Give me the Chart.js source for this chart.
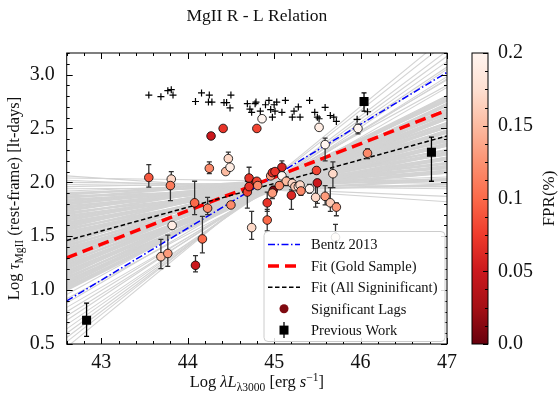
<!DOCTYPE html>
<html>
<head>
<meta charset="utf-8">
<script src="https://cdn.jsdelivr.net/npm/chart.js@4.4.0/dist/chart.umd.min.js"></script>
<style>
  html, body { margin: 0; padding: 0; background: #fff; }
</style>
</head>
<body>
<canvas id="rlChart" width="560" height="397"></canvas>
<script>
// x range of the fit lines (left / right edge of the plot)
const fitX = [42.6, 47];
const bentzY = [0.90, 3.02];
const goldY = [1.30, 2.67];
const allSigY = [1.46, 2.43];

// bootstrap fit lines: value at the left edge and at the right edge
const grayLeft = [0.47, 0.52, 0.56, 0.60, 0.64, 0.68, 0.72, 0.76, 0.80, 0.84, 0.88, 0.92, 0.96,
  1.000, 1.015, 1.030, 1.045, 1.060, 1.075, 1.090, 1.105, 1.120, 1.135, 1.150, 1.165, 1.180, 1.195,
  1.210, 1.225, 1.240, 1.255, 1.270, 1.285, 1.300, 1.315, 1.330, 1.345, 1.360, 1.375, 1.390, 1.405,
  1.420, 1.435, 1.450, 1.465, 1.480, 1.495, 1.510, 1.525, 1.540, 1.555, 1.570, 1.585, 1.600, 1.615,
  1.630, 1.645, 1.660, 1.675, 1.690, 1.705, 1.720, 1.735, 1.750, 1.765, 1.780, 1.795, 1.810, 1.825,
  1.840, 1.855, 1.870, 1.885, 1.900, 1.92, 1.94, 1.96, 1.98, 2.00, 2.02, 2.04, 2.06];
const grayRight = [3.36, 3.30, 3.22, 3.17, 3.12, 3.05, 3.07, 2.98, 2.96, 2.88, 2.95, 2.80, 2.90,
  2.78, 2.80, 2.72, 2.80, 2.71, 2.73, 2.65, 2.76, 2.61, 2.76, 2.65, 2.68, 2.59, 2.67,
  2.59, 2.61, 2.52, 2.64, 2.48, 2.63, 2.53, 2.55, 2.47, 2.55, 2.46, 2.48, 2.40, 2.51,
  2.36, 2.51, 2.40, 2.43, 2.34, 2.42, 2.34, 2.36, 2.27, 2.39, 2.23, 2.38, 2.28, 2.30,
  2.22, 2.30, 2.21, 2.23, 2.15, 2.26, 2.11, 2.26, 2.15, 2.18, 2.09, 2.17, 2.09, 2.11,
  2.02, 2.14, 1.98, 2.13, 2.03, 2.05, 1.96, 2.03, 1.94, 1.96, 1.87, 1.99, 1.82];

// lags without significance (plus markers)
const plusX = [43.55, 43.69, 43.77, 43.81, 43.83, 44.09, 44.16, 44.25, 44.24, 44.28, 44.42, 44.45, 44.49, 44.50,
  44.69, 44.72, 44.74, 44.78, 44.79, 44.84, 44.90, 44.94, 44.96, 44.98, 45.00, 45.01, 45.03, 45.09, 45.13,
  45.21, 45.23, 45.28, 45.30, 45.41, 45.47, 45.50, 45.52, 45.59, 45.65, 45.69, 45.72, 45.96, 46.08];
const plusY = [2.81, 2.795, 2.85, 2.86, 2.81, 2.75, 2.83, 2.81, 2.745, 2.745, 2.74, 2.74, 2.69, 2.81,
  2.73, 2.68, 2.65, 2.73, 2.745, 2.66, 2.72, 2.76, 2.675, 2.605, 2.72, 2.66, 2.745, 2.65, 2.76,
  2.605, 2.66, 2.70, 2.605, 2.76, 2.65, 2.605, 2.59, 2.695, 2.62, 2.605, 2.565, 2.585, 2.655];

// significant lags
const lagX = [43.55, 43.81, 43.80, 44.25, 44.27, 44.41, 44.80, 44.86, 44.47, 44.44, 44.49, 44.71, 44.79, 44.69,
  45.52, 45.97, 45.59, 46.08, 45.09, 45.49, 45.68, 45.50, 45.41, 44.08, 44.23, 44.50, 43.82, 43.69, 43.77,
  44.17, 44.09, 44.74, 44.92, 44.92, 44.99, 44.96, 44.98, 45.01, 45.09, 45.14, 45.06, 44.98, 45.21, 45.24,
  45.28, 45.30, 45.31, 45.20, 45.48, 45.59, 45.65, 45.72, 45.71, 44.80, 44.81, 44.71];
const lagY = [2.045, 2.03, 1.97, 2.13, 2.43, 2.50, 2.50, 2.59, 2.22, 2.10, 2.14, 2.04, 2.00, 1.91,
  2.51, 2.50, 2.35, 2.27, 2.14, 2.11, 2.08, 1.995, 1.94, 1.81, 1.76, 1.79, 1.60, 1.31, 1.34,
  1.475, 1.23, 1.58, 1.81, 1.65, 1.925, 2.06, 2.09, 2.10, 2.06, 2.01, 1.97, 1.90, 1.99, 1.96,
  1.96, 1.975, 1.92, 1.88, 1.86, 1.87, 1.81, 1.77, 1.49, 2.01, 1.97, 1.96];
const lagFpr = [0.09, 0.17, 0.11, 0.12, 0.05, 0.07, 0.08, 0.20, 0.17, 0.15, 0.19, 0.07, 0.08, 0.08,
  0.19, 0.20, 0.20, 0.12, 0.06, 0.08, 0.17, 0.05, 0.20, 0.10, 0.12, 0.12, 0.19, 0.15, 0.13,
  0.10, 0.05, 0.17, 0.07, 0.10, 0.01, 0.13, 0.07, 0.07, 0.20, 0.15, 0.12, 0.13, 0.17, 0.16,
  0.18, 0.17, 0.12, 0.06, 0.17, 0.13, 0.16, 0.13, 0.19, 0.08, 0.12, 0.07];
const lagErrLo = [0.09, 0.03, 0.14, 0.05, 0, 0, 0, 0, 0.03, 0, 0, 0.05, 0.03, 0.15,
  0, 0.05, 0.15, 0.05, 0.04, 0.03, 0.13, 0.19, 0.04, 0.11, 0.06, 0, 0, 0.11, 0.12,
  0.13, 0.06, 0.11, 0.08, 0.10, 0.04, 0, 0, 0, 0, 0.04, 0, 0.05, 0, 0,
  0, 0, 0.04, 0.13, 0.09, 0.08, 0.08, 0.08, 0, 0, 0, 0];
const lagErrHi = [0.12, 0.07, 0.05, 0.06, 0, 0, 0, 0, 0.06, 0, 0, 0.10, 0.03, 0.10,
  0, 0.04, 0.06, 0.04, 0.06, 0.03, 0.11, 0.03, 0.04, 0.20, 0.10, 0, 0, 0.16, 0.17,
  0.21, 0.09, 0.15, 0.10, 0.10, 0.04, 0, 0, 0, 0, 0.04, 0, 0.05, 0, 0,
  0, 0, 0.04, 0.05, 0.12, 0.10, 0.14, 0.04, 0.12, 0, 0, 0];

// previous work
const prevX = [42.83, 46.04, 46.82];
const prevY = [0.72, 2.75, 2.28];
const prevErrLo = [0.15, 0.09, 0.27];
const prevErrHi = [0.16, 0.08, 0.14];

const legendLabels = ['Bentz 2013', 'Fit (Gold Sample)', 'Fit (All Signinificant)', 'Significant Lags', 'Previous Work'];
const fprTicks = [0, 0.05, 0.1, 0.15, 0.2];

const serif = '"Liberation Serif", "Times New Roman", serif';
const ink = '#111111';

// matplotlib "Reds", reversed so FPR 0 is dark
const redsStops = ['#67000d', '#a50f15', '#cb181d', '#ef3b2c', '#fb6a4a', '#fc9272', '#fcbba1', '#fee0d2', '#fff5f0'];

function hexToRgb(h) {
    return [parseInt(h.slice(1, 3), 16), parseInt(h.slice(3, 5), 16), parseInt(h.slice(5, 7), 16)];
}

function fprColor(f) {
    const t = Math.min(1, Math.max(0, f / 0.2)) * 8;
    const i = Math.min(7, Math.floor(t));
    const u = t - i;
    const a = hexToRgb(redsStops[i]), b = hexToRgb(redsStops[i + 1]);
    const c = a.map((v, k) => Math.round(v + (b[k] - v) * u));
    return `rgb(${c[0]},${c[1]},${c[2]})`;
}

// draw a line of text made of pieces: '' plain, 'i' italic, 'sub', 'sup'
function drawRich(ctx, parts, cx, cy, size, rot) {
    const fontFor = st => {
        const s = (st === 'sub' || st === 'sup') ? size * 0.7 : size;
        return `${st === 'i' ? 'italic ' : ''}${s}px ${serif}`;
    };
    let total = 0;
    const widths = parts.map(([t, st]) => {
        ctx.font = fontFor(st);
        const w = ctx.measureText(t).width;
        total += w;
        return w;
    });
    ctx.save();
    ctx.translate(cx, cy);
    ctx.rotate(rot);
    ctx.fillStyle = ink;
    ctx.textBaseline = 'alphabetic';
    ctx.textAlign = 'left';
    let x = -total / 2;
    parts.forEach(([t, st], i) => {
        ctx.font = fontFor(st);
        let dy = size * 0.33;
        if (st === 'sub') dy += size * 0.22;
        if (st === 'sup') dy -= size * 0.42;
        ctx.fillText(t, x, dy);
        x += widths[i];
    });
    ctx.restore();
}

const errorBars = {
    id: 'errorBars',
    beforeDatasetDraw(chart, args) {
        const ds = chart.data.datasets[args.index];
        if (!ds.errLo) return;
        const { ctx, chartArea } = chart;
        const xs = chart.scales.x, ys = chart.scales.y;
        ctx.save();
        ctx.beginPath();
        ctx.rect(chartArea.left, chartArea.top, chartArea.right - chartArea.left, chartArea.bottom - chartArea.top);
        ctx.clip();
        ctx.strokeStyle = ds.errColor;
        ctx.lineWidth = 1.3;
        ds.data.forEach((p, i) => {
            const lo = ds.errLo[i], hi = ds.errHi[i];
            if (!lo && !hi) return;
            const px = xs.getPixelForValue(p.x);
            const y1 = ys.getPixelForValue(p.y - lo);
            const y2 = ys.getPixelForValue(p.y + hi);
            ctx.beginPath();
            ctx.moveTo(px, y1); ctx.lineTo(px, y2);
            ctx.moveTo(px - 2.5, y1); ctx.lineTo(px + 2.5, y1);
            ctx.moveTo(px - 2.5, y2); ctx.lineTo(px + 2.5, y2);
            ctx.stroke();
        });
        ctx.restore();
    }
};

const decorations = {
    id: 'decorations',
    afterDatasetsDraw(chart) {
        const { ctx, chartArea: a } = chart;
        const xs = chart.scales.x, ys = chart.scales.y, cb = chart.scales.cb;
        ctx.save();
        ctx.strokeStyle = '#000';
        ctx.lineWidth = 1;
        ctx.strokeRect(a.left, a.top, a.right - a.left, a.bottom - a.top);

        // inward ticks on all four sides
        ctx.beginPath();
        for (let v = 42.6; v <= 47.001; v += 0.2) {
            const px = Math.round(xs.getPixelForValue(v)) + 0.5;
            const major = Math.abs(v - Math.round(v)) < 0.01;
            const len = major ? 6 : 3;
            ctx.moveTo(px, a.bottom); ctx.lineTo(px, a.bottom - len);
            ctx.moveTo(px, a.top); ctx.lineTo(px, a.top + len);
        }
        for (let v = 0.5; v <= 3.2001; v += 0.1) {
            const py = Math.round(ys.getPixelForValue(v)) + 0.5;
            const major = Math.abs(v * 2 - Math.round(v * 2)) < 0.01;
            const len = major ? 6 : 3;
            ctx.moveTo(a.left, py); ctx.lineTo(a.left + len, py);
            ctx.moveTo(a.right, py); ctx.lineTo(a.right - len, py);
        }
        ctx.stroke();

        // colour bar
        const bx = a.right + 25, bw = 16;
        const g = ctx.createLinearGradient(0, cb.getPixelForValue(0), 0, cb.getPixelForValue(0.2));
        redsStops.forEach((c, i) => g.addColorStop(i / 8, c));
        ctx.fillStyle = g;
        ctx.fillRect(bx, a.top, bw, a.bottom - a.top);
        ctx.strokeRect(bx, a.top, bw, a.bottom - a.top);
        ctx.beginPath();
        for (let k = 0; k <= 16; k++) {
            const py = Math.round(cb.getPixelForValue(k * 0.0125)) + 0.5;
            const len = k % 4 === 0 ? 5 : 3;
            ctx.moveTo(bx + bw, py); ctx.lineTo(bx + bw - len, py);
        }
        ctx.stroke();
        ctx.restore();
    },
    afterDraw(chart) {
        const { ctx, chartArea: a } = chart;
        const midX = (a.left + a.right) / 2, midY = (a.top + a.bottom) / 2;

        // title and axis titles
        ctx.save();
        ctx.fillStyle = ink;
        ctx.font = `17.5px ${serif}`;
        ctx.textAlign = 'center';
        ctx.textBaseline = 'middle';
        ctx.fillText('MgII R - L Relation', midX, 16);
        ctx.restore();
        drawRich(ctx, [['Log ', ''], ['τ', 'i'], ['MgII', 'sub'], [' (rest-frame) [lt-days]', '']], 14, midY, 16.5, -Math.PI / 2);
        drawRich(ctx, [['Log ', ''], ['λL', 'i'], ['λ3000', 'sub'], [' [erg ', ''], ['s', 'i'], ['−1', 'sup'], [']', '']], midX, 382, 16.5, 0);
        drawRich(ctx, [['FPR(%)', '']], 548, midY, 17, -Math.PI / 2);

        // legend box in the lower right corner
        const w = 181, h = 110;
        const x0 = a.right - w - 2, y0 = a.bottom - h - 2.5;
        ctx.save();
        ctx.beginPath();
        ctx.roundRect(x0, y0, w, h, 4);
        ctx.fillStyle = 'rgba(255,255,255,0.85)';
        ctx.fill();
        ctx.strokeStyle = '#cccccc';
        ctx.lineWidth = 1;
        ctx.stroke();

        const hx0 = x0 + 4, hx1 = x0 + 36, hc = (hx0 + hx1) / 2;
        const rowY = i => y0 + 13 + i * 21.4;
        const lines = [
            { color: '#0000ff', width: 1.5, dash: [7, 2.5, 1.5, 2.5] },
            { color: '#ff0000', width: 3.5, dash: [11, 6] },
            { color: '#000000', width: 1.5, dash: [4.5, 2.5] }
        ];
        lines.forEach((s, i) => {
            ctx.beginPath();
            ctx.setLineDash(s.dash);
            ctx.strokeStyle = s.color;
            ctx.lineWidth = s.width;
            ctx.moveTo(hx0, rowY(i)); ctx.lineTo(hx1, rowY(i));
            ctx.stroke();
        });
        ctx.setLineDash([]);
        ctx.beginPath();
        ctx.arc(hc, rowY(3), 4.5, 0, Math.PI * 2);
        ctx.fillStyle = '#7f0a10';
        ctx.fill();
        ctx.beginPath();
        ctx.strokeStyle = '#000';
        ctx.lineWidth = 1.3;
        ctx.moveTo(hc, rowY(4) - 8); ctx.lineTo(hc, rowY(4) + 8);
        ctx.stroke();
        ctx.fillStyle = '#000';
        ctx.fillRect(hc - 4.5, rowY(4) - 4.5, 9, 9);

        ctx.fillStyle = ink;
        ctx.font = `14.5px ${serif}`;
        ctx.textAlign = 'left';
        ctx.textBaseline = 'middle';
        legendLabels.forEach((t, i) => ctx.fillText(t, x0 + 47, rowY(i) + 1));
        ctx.restore();
    }
};

// dense middle of the band drawn a little wider so it reads as a solid fill
const grayDatasets = grayLeft.map((l, i) => ({
    type: 'line',
    data: [{ x: fitX[0], y: l }, { x: fitX[1], y: grayRight[i] }],
    borderColor: '#d3d3d3',
    borderWidth: (l >= 0.99 && l <= 1.91) ? 2.2 : 1.1,
    pointRadius: 0,
    order: 20
}));

const fitLine = (ys, color, width, dash, order) => ({
    type: 'line',
    data: fitX.map((x, i) => ({ x, y: ys[i] })),
    borderColor: color,
    borderWidth: width,
    borderDash: dash,
    pointRadius: 0,
    order
});

const tickFont = { family: serif, size: 20, lineHeight: 1 };

new Chart(document.getElementById('rlChart'), {
    type: 'scatter',
    data: {
        datasets: [
            {
                data: plusX.map((x, i) => ({ x, y: plusY[i] })),
                pointStyle: 'cross',
                pointRadius: 3.5,
                borderColor: '#000',
                borderWidth: 1.2,
                order: 0
            },
            {
                data: lagX.map((x, i) => ({ x, y: lagY[i] })),
                backgroundColor: lagFpr.map(fprColor),
                borderColor: '#000',
                borderWidth: 0.8,
                pointRadius: 4.3,
                errLo: lagErrLo,
                errHi: lagErrHi,
                errColor: '#333333',
                order: 1
            },
            {
                data: prevX.map((x, i) => ({ x, y: prevY[i] })),
                pointStyle: 'rect',
                backgroundColor: '#000',
                borderColor: '#000',
                borderWidth: 0,
                pointRadius: 6.4,
                errLo: prevErrLo,
                errHi: prevErrHi,
                errColor: '#000',
                order: 2
            },
            fitLine(allSigY, '#000000', 1.5, [4.5, 2.5], 3),
            fitLine(goldY, '#ff0000', 3.5, [11, 6], 4),
            fitLine(bentzY, '#0000ff', 1.5, [7, 2.5, 1.5, 2.5], 5),
            ...grayDatasets
        ]
    },
    options: {
        responsive: false,
        animation: false,
        devicePixelRatio: 1,
        layout: { padding: { top: 28.3, left: 0, right: 0, bottom: 0 } },
        plugins: {
            legend: { display: false },
            tooltip: { enabled: false },
            title: { display: false }
        },
        scales: {
            x: {
                type: 'linear',
                position: 'bottom',
                min: 42.6,
                max: 47,
                afterFit: s => { s.height = 44.3; },
                grid: { display: false },
                border: { display: false },
                ticks: { stepSize: 1, includeBounds: false, padding: 1, color: ink, font: tickFont, callback: v => String(v) }
            },
            y: {
                type: 'linear',
                position: 'left',
                min: 0.5,
                max: 3.2,
                afterFit: s => { s.width = 66.7; },
                grid: { display: false },
                border: { display: false },
                ticks: { stepSize: 0.5, includeBounds: false, padding: 4, color: ink, font: tickFont, callback: v => v.toFixed(1) }
            },
            cb: {
                type: 'linear',
                position: 'right',
                min: 0,
                max: 0.2,
                afterFit: s => { s.width = 113; },
                grid: { display: false },
                border: { display: false },
                afterBuildTicks: s => { s.ticks = fprTicks.map(v => ({ value: v })); },
                ticks: {
                    padding: 43,
                    color: ink,
                    font: tickFont,
                    callback: v => (v === 0 ? '0.0' : String(Math.round(v * 100) / 100))
                }
            }
        }
    },
    plugins: [errorBars, decorations]
});
</script>
</body>
</html>
